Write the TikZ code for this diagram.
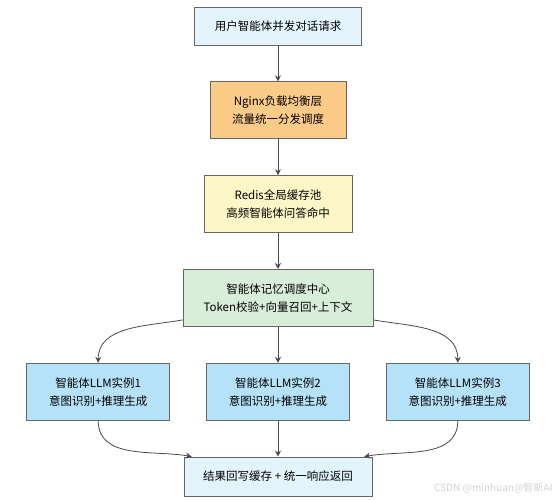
\documentclass[tikz,border=0pt]{standalone}
\usepackage{fontspec}
\setmainfont{Noto Sans CJK SC}
\usepackage{tikz}
\newcommand{\boxheight}{57pt}
\newcommand{\gapsize}{36pt}
\definecolor{reqBlue}{HTML}{E3F4FD}
\definecolor{lbOrange}{HTML}{FDCB88}
\definecolor{cacheYellow}{HTML}{FDF6C6}
\definecolor{memGreen}{HTML}{D9EED9}
\definecolor{llmBlue}{HTML}{B5E2F8}
\definecolor{edgeGray}{HTML}{4A4A4A}
\usetikzlibrary{arrows.meta,positioning}
\tikzset{
  >={Stealth[length=6pt,width=6pt]},
  font=\fontsize{11.5}{18}\selectfont,
  node distance=\gapsize,
  rect/.style={draw=gray!80!black,line width=0.8pt,shape=rectangle,minimum height=\boxheight,inner sep=1mm,align=center},
  line/.style={draw=edgeGray,->,line width=0.8pt},
}
\begin{document}
\begin{tikzpicture}[x=1pt,y=-1pt]
  \useasboundingbox (0,0) rectangle (560,500);
  \node (req) [rect,fill=reqBlue,minimum width=167pt,minimum height=38pt] at (278,26) {用户智能体并发对话请求};
  \node (nginx) [rect,fill=lbOrange,minimum width=136pt,below=of req] {Nginx负载均衡层\\流量统一分发调度};
  \node (redis) [rect,fill=cacheYellow,minimum width=148pt,below=of nginx] {Redis全局缓存池\\高频智能体问答命中};
  \node (mem) [rect,fill=memGreen,minimum width=190pt,below=of redis] {智能体记忆调度中心\\Token校验+向量召回+上下文};
  \node (llm2) [rect,fill=llmBlue,minimum width=143pt,below=of mem] {智能体LLM实例2\\意图识别+推理生成};
  \node (llm1) [rect,fill=llmBlue,minimum width=143pt,left=of llm2] {智能体LLM实例1\\意图识别+推理生成};
  \node (llm3) [rect,fill=llmBlue,minimum width=143pt,right=of llm2] {智能体LLM实例3\\意图识别+推理生成};
  \node (out) [rect,fill=reqBlue,minimum width=188pt,minimum height=39pt,below=of llm2] {结果回写缓存 + 统一响应返回};
  \path [line] (req) -- (nginx);
  \path [line] (nginx) -- (redis);
  \path [line] (redis) -- (mem);
  \path [line] (mem.193) to[out=190,in=90] (llm1.north);
  \path [line] (mem) -- (llm2);
  \path [line] (mem.347) to[out=-10,in=90] (llm3.north);
  \path [line] (llm1.south) to[out=-90,in=170] (out.167);
  \path [line] (llm2) -- (out);
  \path [line] (llm3.south) to[out=-90,in=10] (out.13);
  \node (mark) [text=gray!35,font=\fontsize{10}{12}\selectfont,anchor=south east] at (556,497) {CSDN @minhuan@智斯AI};
\end{tikzpicture}
\end{document}
